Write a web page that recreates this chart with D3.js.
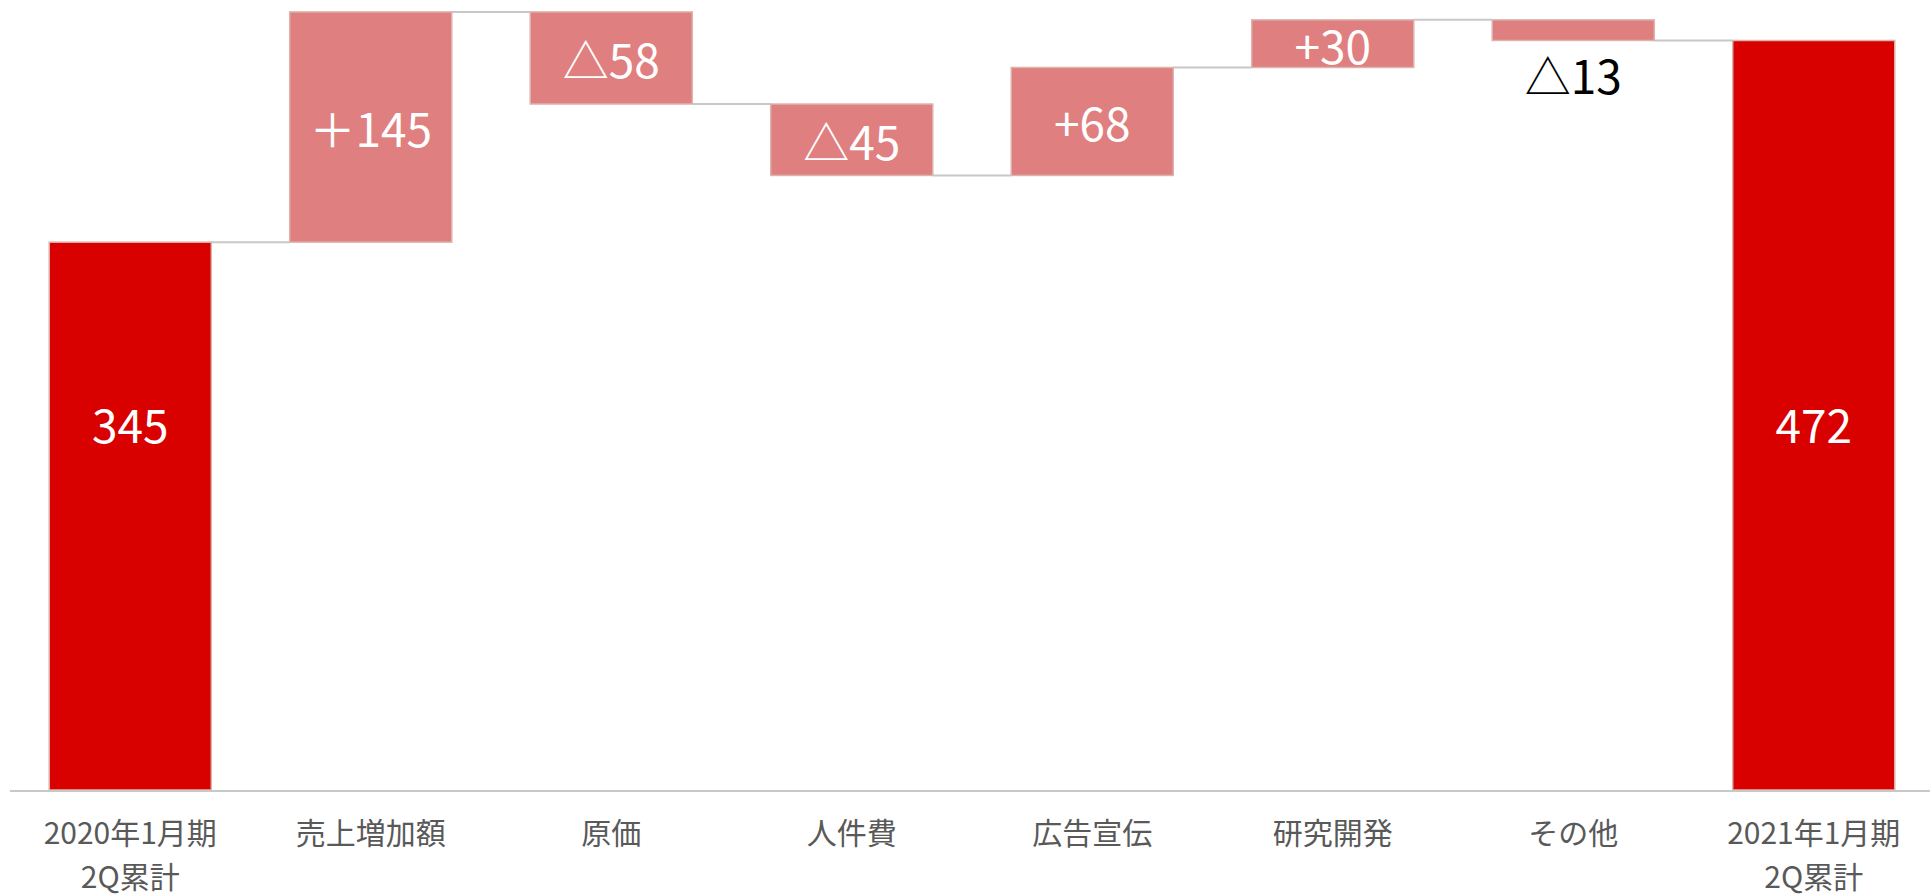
<!DOCTYPE html>
<html>
<head>
<meta charset="utf-8">
<script src="https://cdn.jsdelivr.net/npm/d3@7"></script>
<style>
  html, body { margin: 0; padding: 0; background: #fff; }
  svg { display: block; }
</style>
</head>
<body>
<script>
// Operating-profit bridge: first half FY2020 -> first half FY2021
const categories = ["2020年1月期|2Q累計", "売上増加額", "原価", "人件費", "広告宣伝", "研究開発", "その他", "2021年1月期|2Q累計"];
const values = [345, 145, -58, -45, 68, 30, -13, 472];
const kinds = ["total", "delta", "delta", "delta", "delta", "delta", "delta", "total"];
const valueLabels = ["345", "＋145", "△58", "△45", "+68", "+30", "△13", "472"];

const W = 1930, H = 896;
const baseY = 790;
const svg = d3.select("body").append("svg").attr("width", W).attr("height", H);

// running totals give the floating segment for each step
let running = 0;
const rows = categories.map((c, i) => {
  let lo, hi, end;
  if (kinds[i] === "total") {
    lo = 0; hi = values[i]; end = values[i];
  } else {
    const start = running;
    end = running + values[i];
    lo = Math.min(start, end); hi = Math.max(start, end);
  }
  running = end;
  return { key: c, i, lo, hi, end, kind: kinds[i], label: valueLabels[i], value: values[i] };
});

const x = d3.scaleBand().domain(categories).range([10, 1934]).paddingInner(0.326).paddingOuter(0.163);
const y = d3.scaleLinear().domain([0, 497.5]).range([baseY, 0]);

// connectors between consecutive bars at the running level
const links = rows.slice(0, -1).map((r, i) => ({ from: r, to: rows[i + 1] }));
svg.append("g").selectAll("line").data(links).join("line")
  .attr("x1", d => x(d.from.key) + x.bandwidth())
  .attr("x2", d => x(d.to.key))
  .attr("y1", d => y(d.from.end))
  .attr("y2", d => y(d.from.end))
  .attr("stroke", "#c8c8c8").attr("stroke-width", 2);

// bars
svg.append("g").selectAll("rect").data(rows).join("rect")
  .attr("x", d => x(d.key))
  .attr("width", x.bandwidth())
  .attr("y", d => y(d.hi))
  .attr("height", d => y(d.lo) - y(d.hi))
  .attr("fill", d => d.kind === "total" ? "#d90000" : "#df7f7f")
  .attr("stroke", "#dcb4ae").attr("stroke-width", 1.5);

// baseline
svg.append("line")
  .attr("x1", 10).attr("x2", W).attr("y1", baseY + 1).attr("y2", baseY + 1)
  .attr("stroke", "#c8c8c8").attr("stroke-width", 2);

// value labels
const totalLabelY = 423;
const isThin = d => y(d.lo) - y(d.hi) < 30;
svg.append("g").selectAll("text").data(rows).join("text")
  .attr("x", d => x(d.key) + x.bandwidth() / 2)
  .attr("y", d => {
    if (d.kind === "total") return totalLabelY;
    if (isThin(d)) return y(d.lo) + 34;
    return (y(d.lo) + y(d.hi)) / 2;
  })
  .attr("text-anchor", "middle")
  .attr("dominant-baseline", "central")
  .attr("font-family", "'Noto Sans CJK JP', 'Noto Sans', sans-serif")
  .attr("font-size", 46)
  .attr("fill", d => (d.kind === "delta" && isThin(d)) ? "#000" : "#fff")
  .text(d => d.label);

// category labels (two lines where needed)
const cat = svg.append("g").selectAll("text").data(rows).join("text")
  .attr("text-anchor", "middle")
  .attr("font-family", "'Noto Sans CJK JP', 'Noto Sans', sans-serif")
  .attr("font-size", 30)
  .attr("fill", "#595959");
cat.selectAll("tspan").data(d => d.key.split("|").map((t, j) => ({ t, j, d }))).join("tspan")
  .attr("x", s => x(s.d.key) + x.bandwidth() / 2)
  .attr("y", s => 831 + s.j * 44)
  .attr("dominant-baseline", "central")
  .text(s => s.t);
</script>
</body>
</html>
